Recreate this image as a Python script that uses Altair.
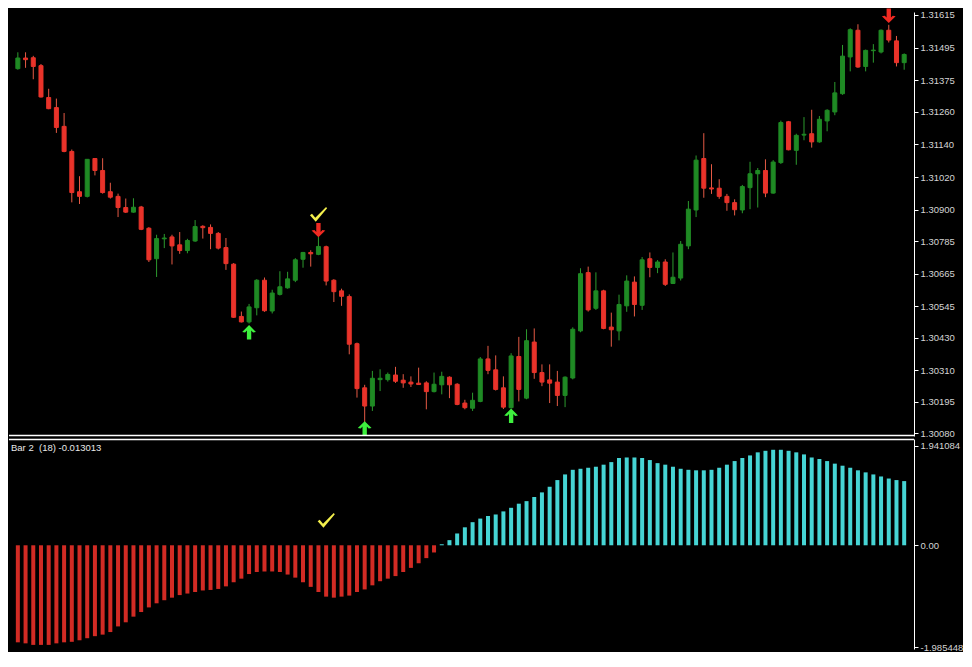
import altair as alt
import pandas as pd

# ---------------- data ----------------
bar_index = list(range(116))

open_price = [
    1.31418, 1.31457, 1.31458, 1.31429, 1.31312, 1.31275, 1.31206, 1.31114, 1.30966, 1.30949,
    1.31088, 1.31044, 1.30966, 1.30949, 1.30908, 1.30891, 1.30910, 1.30832, 1.30720, 1.30793,
    1.30800, 1.30771, 1.30750, 1.30785, 1.30839, 1.30835, 1.30813, 1.30761, 1.30700, 1.30508,
    1.30488, 1.30540, 1.30641, 1.30528, 1.30589, 1.30613, 1.30641, 1.30718, 1.30743, 1.30736,
    1.30764, 1.30641, 1.30602, 1.30581, 1.30408, 1.30246, 1.30179, 1.30276, 1.30276, 1.30293,
    1.30274, 1.30267, 1.30263, 1.30264, 1.30232, 1.30257, 1.30285, 1.30259, 1.30190, 1.30171,
    1.30196, 1.30352, 1.30312, 1.30246, 1.30173, 1.30361, 1.30208, 1.30414, 1.30302, 1.30275,
    1.30267, 1.30218, 1.30282, 1.30455, 1.30669, 1.30538, 1.30602, 1.30469, 1.30455, 1.30547,
    1.30634, 1.30549, 1.30720, 1.30688, 1.30708, 1.30629, 1.30649, 1.30767, 1.30899, 1.31088,
    1.30980, 1.30979, 1.30949, 1.30926, 1.30899, 1.30981, 1.31032, 1.31044, 1.30961, 1.31073,
    1.31223, 1.31118, 1.31174, 1.31179, 1.31149, 1.31226, 1.31259, 1.31326, 1.31461, 1.31559,
    1.31426, 1.31484, 1.31479, 1.31559, 1.31520, 1.31440,
]
high_price = [
    1.31478, 1.31478, 1.31465, 1.31435, 1.31344, 1.31308, 1.31255, 1.31121, 1.31023, 1.31086,
    1.31089, 1.31089, 1.30999, 1.30959, 1.30941, 1.30942, 1.30914, 1.30836, 1.30808, 1.30811,
    1.30808, 1.30818, 1.30793, 1.30862, 1.30843, 1.30846, 1.30818, 1.30796, 1.30704, 1.30526,
    1.30554, 1.30645, 1.30651, 1.30606, 1.30674, 1.30672, 1.30722, 1.30745, 1.30751, 1.30800,
    1.30768, 1.30645, 1.30610, 1.30589, 1.30412, 1.30257, 1.30308, 1.30314, 1.30302, 1.30323,
    1.30296, 1.30288, 1.30320, 1.30270, 1.30302, 1.30305, 1.30288, 1.30263, 1.30202, 1.30228,
    1.30359, 1.30400, 1.30365, 1.30288, 1.30373, 1.30433, 1.30461, 1.30464, 1.30332, 1.30332,
    1.30308, 1.30288, 1.30468, 1.30685, 1.30691, 1.30670, 1.30606, 1.30522, 1.30588, 1.30659,
    1.30655, 1.30726, 1.30743, 1.30715, 1.30718, 1.30743, 1.30785, 1.30932, 1.31099, 1.31181,
    1.31067, 1.31012, 1.30958, 1.30938, 1.30991, 1.31076, 1.31053, 1.31085, 1.31082, 1.31227,
    1.31226, 1.31179, 1.31240, 1.31267, 1.31244, 1.31269, 1.31369, 1.31505, 1.31566, 1.31581,
    1.31488, 1.31508, 1.31562, 1.31579, 1.31538, 1.31474,
]
low_price = [
    1.31414, 1.31421, 1.31379, 1.31312, 1.31269, 1.31182, 1.31111, 1.30927, 1.30921, 1.30945,
    1.31026, 1.30959, 1.30941, 1.30873, 1.30888, 1.30889, 1.30825, 1.30708, 1.30653, 1.30759,
    1.30699, 1.30738, 1.30740, 1.30782, 1.30794, 1.30755, 1.30754, 1.30679, 1.30503, 1.30486,
    1.30482, 1.30512, 1.30525, 1.30519, 1.30585, 1.30610, 1.30634, 1.30687, 1.30691, 1.30733,
    1.30622, 1.30561, 1.30547, 1.30369, 1.30210, 1.30120, 1.30161, 1.30234, 1.30269, 1.30264,
    1.30246, 1.30249, 1.30257, 1.30167, 1.30229, 1.30222, 1.30208, 1.30182, 1.30167, 1.30161,
    1.30193, 1.30296, 1.30236, 1.30168, 1.30170, 1.30196, 1.30204, 1.30279, 1.30252, 1.30190,
    1.30179, 1.30175, 1.30277, 1.30450, 1.30526, 1.30532, 1.30461, 1.30397, 1.30420, 1.30525,
    1.30508, 1.30532, 1.30652, 1.30667, 1.30620, 1.30627, 1.30640, 1.30755, 1.30873, 1.30944,
    1.30958, 1.30940, 1.30896, 1.30879, 1.30887, 1.30902, 1.30908, 1.30946, 1.30959, 1.31068,
    1.31118, 1.31065, 1.31155, 1.31128, 1.31146, 1.31188, 1.31247, 1.31322, 1.31408, 1.31421,
    1.31408, 1.31440, 1.31474, 1.31514, 1.31426, 1.31414,
]
close_price = [
    1.31457, 1.31451, 1.31426, 1.31314, 1.31271, 1.31202, 1.31114, 1.30963, 1.30949, 1.31085,
    1.31044, 1.30963, 1.30946, 1.30908, 1.30891, 1.30909, 1.30828, 1.30716, 1.30794, 1.30796,
    1.30767, 1.30750, 1.30787, 1.30838, 1.30834, 1.30813, 1.30759, 1.30702, 1.30505, 1.30488,
    1.30543, 1.30641, 1.30529, 1.30594, 1.30617, 1.30646, 1.30716, 1.30743, 1.30738, 1.30765,
    1.30638, 1.30599, 1.30582, 1.30406, 1.30243, 1.30179, 1.30281, 1.30281, 1.30295, 1.30270,
    1.30264, 1.30260, 1.30258, 1.30232, 1.30259, 1.30288, 1.30257, 1.30185, 1.30173, 1.30200,
    1.30352, 1.30310, 1.30240, 1.30175, 1.30363, 1.30240, 1.30419, 1.30302, 1.30267, 1.30263,
    1.30218, 1.30285, 1.30461, 1.30665, 1.30532, 1.30602, 1.30464, 1.30459, 1.30552, 1.30638,
    1.30552, 1.30716, 1.30688, 1.30708, 1.30626, 1.30652, 1.30773, 1.30902, 1.31082, 1.30979,
    1.30976, 1.30949, 1.30926, 1.30900, 1.30985, 1.31032, 1.31044, 1.30961, 1.31075, 1.31220,
    1.31120, 1.31173, 1.31177, 1.31149, 1.31232, 1.31265, 1.31329, 1.31464, 1.31561, 1.31424,
    1.31485, 1.31486, 1.31559, 1.31523, 1.31440, 1.31470,
]

hist_value = [
    -1.89, -1.91, -1.94, -1.94, -1.94, -1.91, -1.89, -1.88, -1.85, -1.81,
    -1.77, -1.74, -1.69, -1.58, -1.50, -1.39, -1.30, -1.21, -1.13, -1.07,
    -1.02, -0.97, -0.94, -0.91, -0.88, -0.87, -0.85, -0.80, -0.72, -0.65,
    -0.56, -0.52, -0.51, -0.51, -0.52, -0.57, -0.63, -0.72, -0.81, -0.91,
    -1.00, -1.02, -1.00, -0.98, -0.91, -0.86, -0.78, -0.70, -0.65, -0.60,
    -0.52, -0.44, -0.35, -0.25, -0.14, 0.02,
    0.10, 0.23, 0.35, 0.45, 0.52, 0.57, 0.60, 0.66, 0.73, 0.81,
    0.86, 0.94, 1.03, 1.14, 1.27, 1.38, 1.47, 1.49, 1.51, 1.53,
    1.57, 1.62, 1.70, 1.71, 1.71, 1.70, 1.66, 1.60, 1.57, 1.53,
    1.49, 1.47, 1.46, 1.46, 1.47, 1.51, 1.57, 1.64, 1.70, 1.75,
    1.81, 1.84, 1.86, 1.86, 1.84, 1.81, 1.77, 1.71, 1.68, 1.64,
    1.59, 1.55, 1.51, 1.46, 1.42, 1.38, 1.34, 1.30, 1.27, 1.25,
]

price_ticks = [1.31615, 1.31495, 1.31375, 1.31260, 1.31140, 1.31020, 1.30900,
               1.30785, 1.30665, 1.30545, 1.30430, 1.30310, 1.30195, 1.30080]
hist_ticks = [1.941084, 0.0, -1.985448]

up_arrow_bar = [30, 45, 64]
up_arrow_price = [1.30450, 1.30097, 1.30143]
down_arrow_bar = [39, 113]
down_arrow_price = [1.30825, 1.31612]
check_top_bar = [39]
check_top_price = [1.30881]
check_low_bar = [40]
check_low_value = [0.475]

indicator_label = "Bar 2\u00a0\u00a0(18) -0.013013"

# ---------------- styling ----------------
W = 905
H_TOP = 424
H_LOW = 210
FONT = "Liberation Sans"

UP_BODY, DN_BODY = "#1f8a24", "#e9332a"
UP_WICK, DN_WICK = "#2c9a2e", "#e55a45"
HIST_UP, HIST_DN = "#46d4d4", "#d22b24"

UP_PATH = "M0,-1 L0.95,-0.05 L0.55,0.02 L0.3,-0.25 L0.3,1 L-0.3,1 L-0.3,-0.25 L-0.55,0.02 L-0.95,-0.05 Z"
DN_PATH = "M0,1 L0.95,0.05 L0.55,-0.02 L0.3,0.25 L0.3,-1 L-0.3,-1 L-0.3,0.25 L-0.55,-0.02 L-0.95,0.05 Z"
CHECK_PATH = "M-0.95,0.05 L-0.72,-0.12 L-0.35,0.32 L0.85,-0.88 L0.97,-0.74 L-0.3,0.78 Z"

candles = pd.DataFrame({
    "i": bar_index, "open": open_price, "high": high_price,
    "low": low_price, "close": close_price,
})
hist = pd.DataFrame({"i": bar_index, "v": hist_value})
dummy = pd.DataFrame({"a": [0]})

xs = alt.Scale(domain=[-0.5, 115.625], nice=False, zero=False)
ys = alt.Scale(domain=[1.30069, 1.31626], nice=False, zero=False)
yl = alt.Scale(domain=[-2.02, 2.07], nice=False, zero=False)

price_axis = alt.Axis(
    orient="right", values=price_ticks, format=".5f", grid=False, title=None,
    domainColor="#ffffff", domainWidth=1, tickColor="#ffffff", tickSize=4,
    labelColor="#d4d4d4", labelFont=FONT, labelFontSize=9.5, labelPadding=2,
    labelOverlap=False,
)
hist_axis = alt.Axis(
    orient="right", values=hist_ticks, grid=False, title=None,
    labelExpr="datum.value > 1 ? '1.941084' : (datum.value < -1 ? '-1.985448' : '0.00')",
    domainColor="#ffffff", domainWidth=1, tickColor="#ffffff", tickSize=4,
    labelColor="#d4d4d4", labelFont=FONT, labelFontSize=9.5, labelPadding=2,
    labelOverlap=False,
)

X = alt.X("i:Q", scale=xs, axis=None)
is_up = "datum.close >= datum.open"

wicks = alt.Chart(candles).mark_rule(strokeWidth=1).encode(
    x=X,
    y=alt.Y("low:Q", scale=ys, axis=price_axis),
    y2="high:Q",
    color=alt.condition(is_up, alt.value(UP_WICK), alt.value(DN_WICK)),
)
bodies = alt.Chart(candles).mark_bar(size=4, strokeWidth=1).encode(
    x=X,
    y=alt.Y("open:Q", scale=ys, axis=price_axis),
    y2="close:Q",
    color=alt.condition(is_up, alt.value(UP_BODY), alt.value(DN_BODY)),
    stroke=alt.condition(is_up, alt.value(UP_BODY), alt.value(DN_BODY)),
)
up_arrows = alt.Chart(pd.DataFrame({"i": up_arrow_bar, "p": up_arrow_price})).mark_point(
    shape=UP_PATH, filled=True, size=210, color="#3ef03e", opacity=1
).encode(x=X, y=alt.Y("p:Q", scale=ys, axis=price_axis))
down_arrows = alt.Chart(pd.DataFrame({"i": down_arrow_bar, "p": down_arrow_price})).mark_point(
    shape=DN_PATH, filled=True, size=210, color="#f02a22", opacity=1
).encode(x=X, y=alt.Y("p:Q", scale=ys, axis=price_axis))
check_top = alt.Chart(pd.DataFrame({"i": check_top_bar, "p": check_top_price})).mark_point(
    shape=CHECK_PATH, filled=True, size=320, color="#f3ef4c", opacity=1
).encode(x=X, y=alt.Y("p:Q", scale=ys, axis=price_axis))
sep_top = alt.Chart(dummy).mark_rule(color="#ffffff", strokeWidth=1.5).encode(
    x=alt.value(0), x2=alt.value(W), y=alt.value(H_TOP - 0.5)
)

top = alt.layer(wicks, bodies, up_arrows, down_arrows, check_top, sep_top).properties(
    width=W, height=H_TOP
)

hist_bars = alt.Chart(hist).mark_bar(size=4).encode(
    x=X,
    y=alt.Y("v:Q", scale=yl, axis=hist_axis),
    y2=alt.datum(0),
    color=alt.condition("datum.v >= 0", alt.value(HIST_UP), alt.value(HIST_DN)),
)
check_low = alt.Chart(pd.DataFrame({"i": check_low_bar, "v": check_low_value})).mark_point(
    shape=CHECK_PATH, filled=True, size=320, color="#f3ef4c", opacity=1
).encode(x=X, y=alt.Y("v:Q", scale=yl, axis=hist_axis))
label = alt.Chart(dummy).mark_text(
    align="left", baseline="middle", color="#e8e8e8", font=FONT, fontSize=9.5
).encode(x=alt.value(2), y=alt.value(9), text=alt.value(indicator_label))
sep_low = alt.Chart(dummy).mark_rule(color="#ffffff", strokeWidth=1.5).encode(
    x=alt.value(0), x2=alt.value(W), y=alt.value(0.5)
)

low = alt.layer(hist_bars, check_low, label, sep_low).properties(width=W, height=H_LOW)

chart = alt.vconcat(top, low, spacing=3, bounds="flush").properties(
    padding=0, background="#000000"
).configure_view(stroke=None)

chart.save("out.html", embed_options={"renderer": "svg", "actions": False})
